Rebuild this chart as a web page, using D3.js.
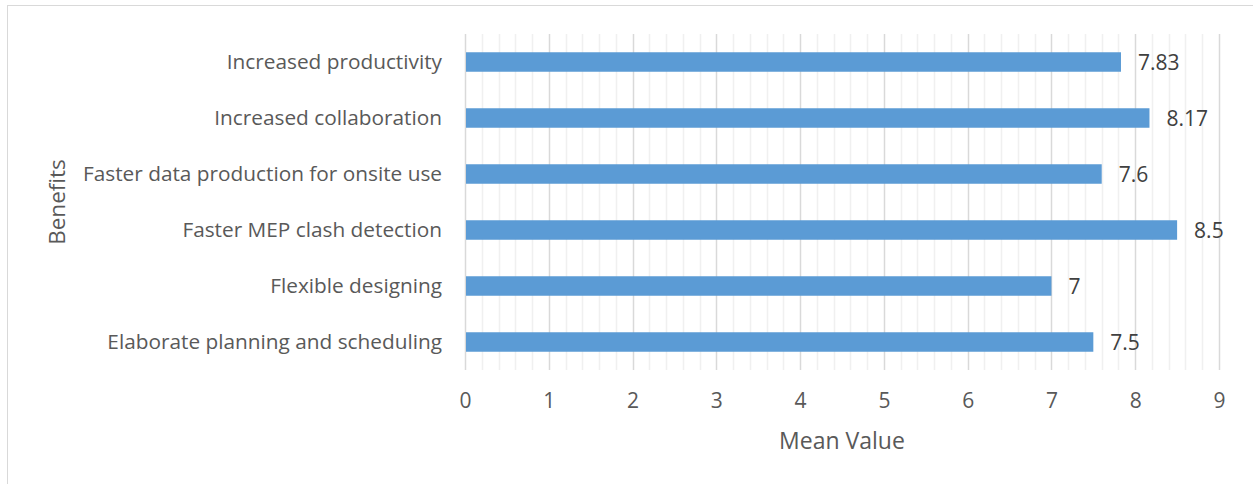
<!DOCTYPE html>
<html>
<head>
<meta charset="utf-8">
<script src="https://cdn.jsdelivr.net/npm/d3@7"></script>
<style>
  html, body { margin: 0; padding: 0; background: #fff; }
  svg { display: block; }
  text { font-family: "Open Sans", "DejaVu Sans", sans-serif; }
</style>
</head>
<body>
<div id="chart"></div>
<script>
const categories = [
  "Increased productivity",
  "Increased collaboration",
  "Faster data production for onsite use",
  "Faster MEP clash detection",
  "Flexible designing",
  "Elaborate planning and scheduling"
];
const meanValues = [7.83, 8.17, 7.6, 8.5, 7, 7.5];
const valueLabels = ["7.83", "8.17", "7.6", "8.5", "7", "7.5"];
const xTicks = [0, 1, 2, 3, 4, 5, 6, 7, 8, 9];
const xTitle = "Mean Value";
const yTitle = "Benefits";

const W = 1253, H = 484;
const plot = { left: 465, right: 1219, top: 34, bottom: 370 };

const svg = d3.select("#chart").append("svg")
  .attr("width", W).attr("height", H);

// chart area border
svg.append("rect")
  .attr("x", 7.5).attr("y", 5.5)
  .attr("width", W + 20).attr("height", H + 20)
  .attr("fill", "#fff").attr("stroke", "#d9d9d9").attr("stroke-width", 1);

const x = d3.scaleLinear().domain([0, 9]).range([plot.left, plot.right]);
const y = d3.scaleBand().domain(categories)
  .range([plot.top, plot.bottom])
  .paddingInner(0.652).paddingOuter(0.326);

// minor gridlines
const minor = d3.range(0, 9.001, 0.2).filter(v => Math.abs(v - Math.round(v)) > 1e-6);
svg.append("g").selectAll("line").data(minor).join("line")
  .attr("x1", d => Math.round(x(d)) + 0.5).attr("x2", d => Math.round(x(d)) + 0.5)
  .attr("y1", plot.top).attr("y2", plot.bottom)
  .attr("stroke", "#f0f0f0").attr("stroke-width", 1.5);

// major gridlines
svg.append("g").selectAll("line").data(xTicks).join("line")
  .attr("x1", d => Math.round(x(d)) + 0.5).attr("x2", d => Math.round(x(d)) + 0.5)
  .attr("y1", plot.top).attr("y2", plot.bottom)
  .attr("stroke", "#d9d9d9").attr("stroke-width", 1.5);

// x axis labels via d3 axis
const xAxis = d3.axisBottom(x).tickValues(xTicks).tickSize(0).tickPadding(0).tickFormat(d3.format("d"));
const gx = svg.append("g").attr("transform", `translate(0,${plot.bottom})`).call(xAxis);
gx.select(".domain").remove();
gx.selectAll("text")
  .attr("dy", null).attr("y", 38)
  .attr("fill", "#595959").style("font-size", "21px");

// y axis labels
const yAxis = d3.axisLeft(y).tickSize(0).tickPadding(23);
const gy = svg.append("g").attr("transform", `translate(${plot.left},0)`).call(yAxis);
gy.select(".domain").remove();
gy.selectAll("text")
  .attr("fill", "#595959").style("font-size", "20.8px");

// bars
svg.append("g").selectAll("rect").data(meanValues).join("rect")
  .attr("x", x(0) + 1)
  .attr("y", (d, i) => y(categories[i]))
  .attr("width", d => x(d) - x(0) - 1)
  .attr("height", y.bandwidth())
  .attr("fill", "#5b9bd5");

// value labels
svg.append("g").selectAll("text").data(meanValues).join("text")
  .attr("x", d => x(d) + 17)
  .attr("y", (d, i) => y(categories[i]) + y.bandwidth() / 2)
  .attr("dy", "0.36em")
  .attr("fill", "#404040").style("font-size", "21px")
  .text((d, i) => valueLabels[i]);

// axis titles
svg.append("text")
  .attr("x", 842).attr("y", 449)
  .attr("text-anchor", "middle")
  .attr("fill", "#595959").style("font-size", "23px")
  .text(xTitle);

svg.append("text")
  .attr("transform", `translate(65,${(plot.top + plot.bottom) / 2}) rotate(-90)`)
  .attr("text-anchor", "middle")
  .attr("fill", "#595959").style("font-size", "22.5px")
  .text(yTitle);
</script>
</body>
</html>
